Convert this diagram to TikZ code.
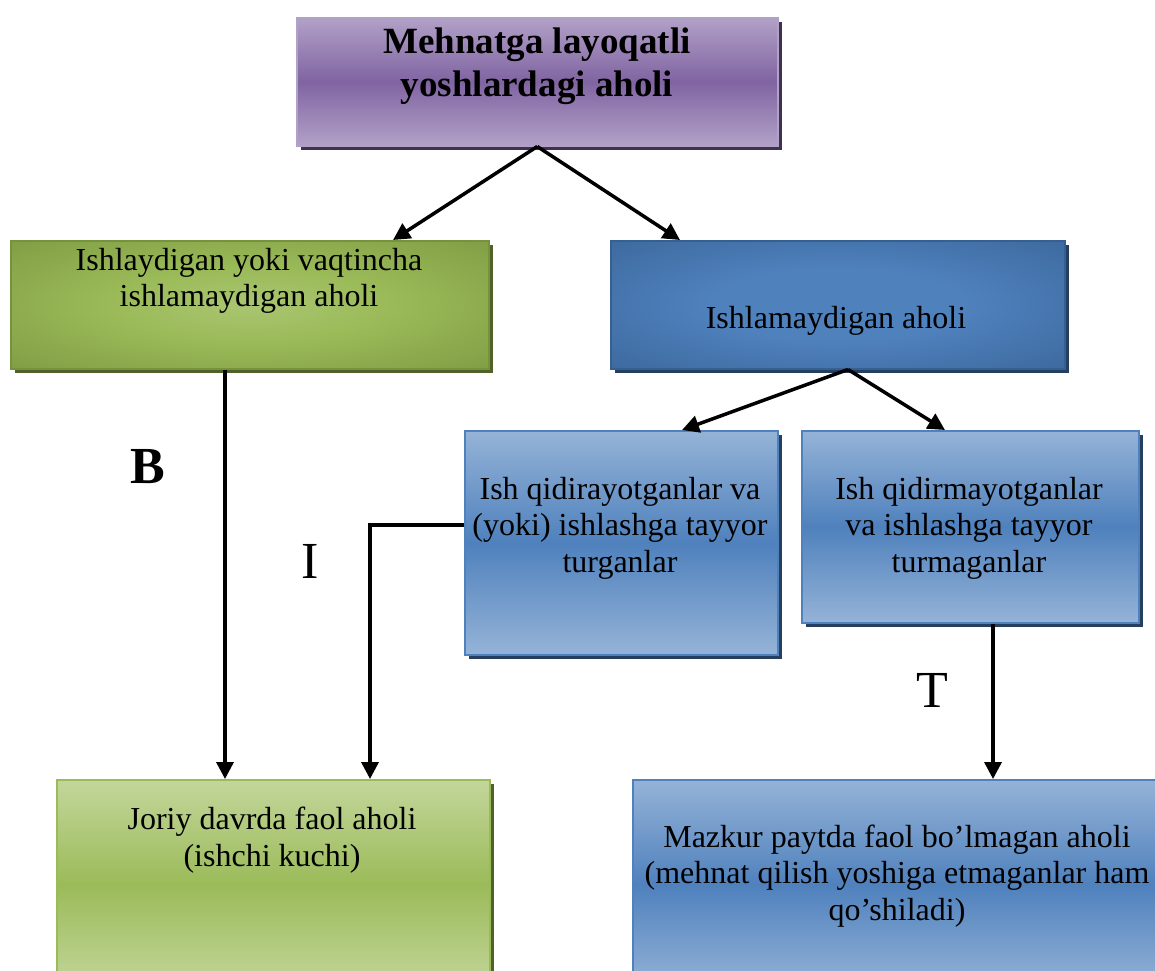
\documentclass[tikz,border=0pt]{standalone}
\usepackage{fontspec}
\setmainfont{Liberation Serif}
\usetikzlibrary{arrows.meta,shadows,calc}
\definecolor{purpleL}{HTML}{B2A1C7}
\definecolor{purpleM}{HTML}{8064A2}
\definecolor{purpleS}{HTML}{3F3151}
\definecolor{greenD}{HTML}{76923C}
\definecolor{greenC}{HTML}{9BBB59}
\definecolor{greenL}{HTML}{C3D69B}
\definecolor{greenS}{HTML}{4F6228}
\definecolor{blueD}{HTML}{366092}
\definecolor{blueC}{HTML}{4F81BD}
\definecolor{blueL}{HTML}{95B3D7}
\definecolor{blueS}{HTML}{243F60}
\colorlet{greenCC}{greenC!85!white}
\pgfdeclareradialshading{greenrad}{\pgfpoint{0bp}{0bp}}{color(0bp)=(greenCC); color(14bp)=(greenC); color(44bp)=(greenD); color(100bp)=(greenD)}
\pgfdeclareradialshading{bluerad}{\pgfpoint{0bp}{0bp}}{color(0bp)=(blueC); color(14bp)=(blueC); color(44bp)=(blueD); color(100bp)=(blueD)}
\tikzset{
  box/.style={line width=1.5pt, inner sep=0pt, anchor=north west},
  shad/.style={drop shadow={shadow xshift=4pt, shadow yshift=-4pt, fill=#1, opacity=1}},
  purplebox/.style={box, draw=purpleL, top color=purpleL, bottom color=purpleL, middle color=purpleM, shad=purpleS},
  greenbox/.style={box, draw=greenD, shading=greenrad, shad=greenS},
  bluebox/.style={box, draw=blueD, shading=bluerad, shad=blueS},
  lightbluebox/.style={box, draw=blueC, top color=blueL, bottom color=blueL, middle color=blueC, shad=blueS},
  lightgreenbox/.style={box, draw=greenC, top color=greenL, bottom color=greenL, middle color=greenC, shad=greenS},
  txt/.style={align=center, inner sep=0pt, font=\fontsize{32}{36.5}\selectfont},
  ttxt/.style={align=center, inner sep=0pt, font=\fontsize{37}{43}\selectfont\bfseries},
  biglabel/.style={inner sep=0pt, font=\fontsize{52}{60}\selectfont},
  arr/.style={line width=3.5pt, -{Triangle[length=17pt,width=17pt]}}
}
\begin{document}
\begin{tikzpicture}[x=1pt,y=-1pt]
\useasboundingbox (0,0) rectangle (1155,970);
% boxes
\node[purplebox, minimum width=481pt, minimum height=128pt] (title) at (296,17) {};
\node[greenbox, minimum width=478pt, minimum height=128pt] (green) at (10,240) {};
\node[bluebox, minimum width=454pt, minimum height=128pt] (blue) at (610,240) {};
\node[lightbluebox, minimum width=313pt, minimum height=224pt] (seek) at (464,430) {};
\node[lightbluebox, minimum width=337pt, minimum height=192pt] (noseek) at (801,430) {};
\node[lightgreenbox, minimum width=433pt, minimum height=210pt] (active) at (56,779) {};
\node[lightbluebox, minimum width=560pt, minimum height=210pt] (inactive) at (632,779) {};
% texts
\node[ttxt] (titletext) at (537,66) {Mehnatga layoqatli\\yoshlardagi aholi};
\node[txt] (greentext) at (249,281) {Ishlaydigan yoki vaqtincha\\ishlamaydigan aholi};
\node[txt] (bluetext) at (836,321) {Ishlamaydigan aholi};
\node[txt] (seektext) at (620,528) {Ish qidirayotganlar va\\(yoki) ishlashga tayyor\\turganlar};
\node[txt] (noseektext) at (969,528) {Ish qidirmayotganlar\\va ishlashga tayyor\\turmaganlar};
\node[txt] (activetext) at (272,840) {Joriy davrda faol aholi\\(ishchi kuchi)};
\node[txt] (inactivetext) at (897,876) {Mazkur paytda faol bo’lmagan aholi\\(mehnat qilish yoshiga etmaganlar ham\\qo’shiladi)};
% labels
\node[biglabel, font=\fontsize{52}{60}\selectfont\bfseries] (labB) at (148,467) {B};
\node[biglabel] (labI) at (310,561) {I};
\node[biglabel] (labT) at (932,690) {T};
% connectors
\draw[arr] (title.south) -- ($(green.north west)+(383,0)$);
\draw[arr] (title.south) -- ($(blue.north west)+(70,0)$);
\draw[arr] ($(blue.south west)+(238,0)$) -- ($(seek.north west)+(218,0)$);
\draw[arr] ($(blue.south west)+(238,0)$) -- ($(noseek.north west)+(144,0)$);
\draw[arr] ($(green.south west)+(215,0)$) -- ($(active.north west)+(169,0)$);
\draw[arr] ($(seek.north west)+(0,95)$) -| ($(active.north west)+(314,0)$);
\draw[arr] ($(noseek.south west)+(192,0)$) -- ($(inactive.north west)+(361,0)$);
\end{tikzpicture}
\end{document}
